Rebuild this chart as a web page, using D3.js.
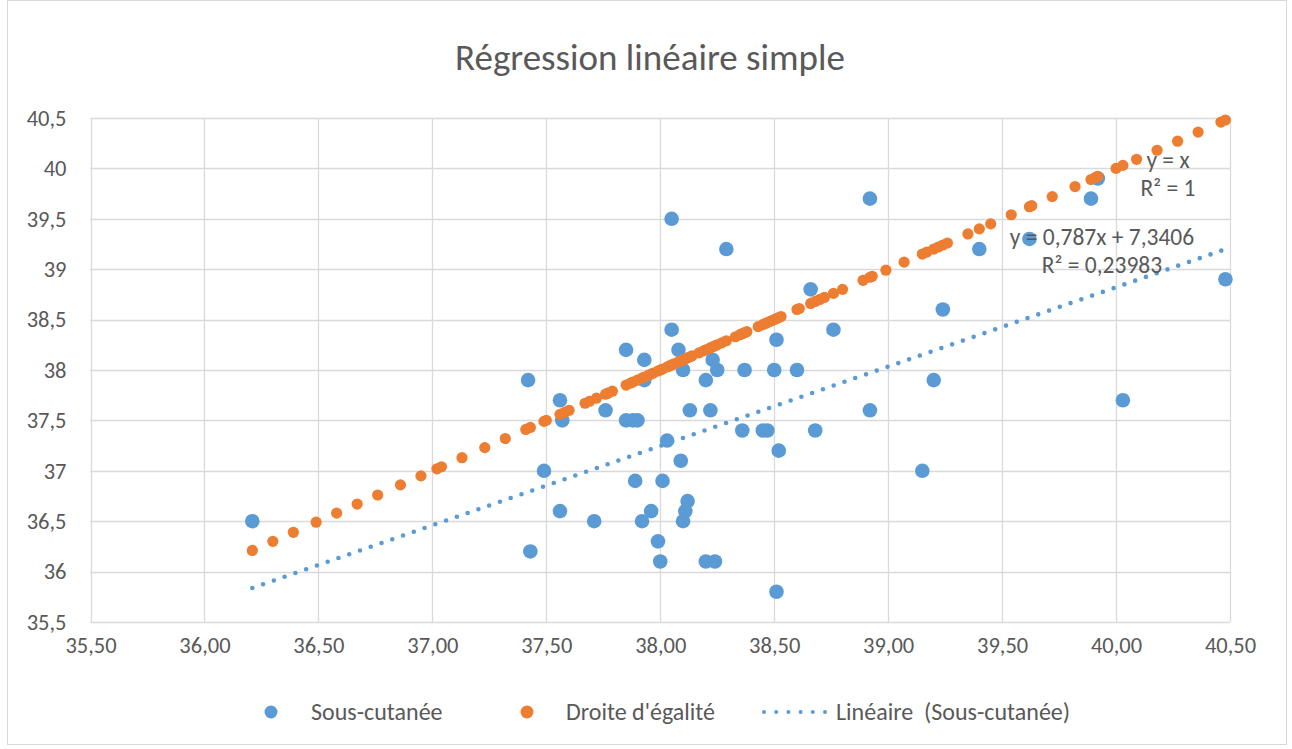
<!DOCTYPE html>
<html lang="fr">
<head>
<meta charset="utf-8">
<script src="https://cdn.jsdelivr.net/npm/d3@7"></script>
<style>
  html, body { margin: 0; padding: 0; background: #fff; }
  svg { display: block; }
  text { font-family: Carlito, Calibri, Lato, "Open Sans", sans-serif; fill: #595959; white-space: pre; }
</style>
</head>
<body>
<svg id="chart" width="1292" height="749"></svg>
<script>
// Sous-cutanée measurements (x = reference temperature, y = subcutaneous temperature)
const subX = [36.21, 37.42, 37.43, 37.49, 37.56, 37.57, 37.56, 37.71, 37.76, 37.85,
              37.85, 37.88, 37.90, 37.89, 37.93, 37.93, 37.92, 37.96, 37.99, 38.00,
              38.01, 38.03, 38.05, 38.05, 38.08, 38.09, 38.10, 38.10, 38.11, 38.12,
              38.13, 38.20, 38.20, 38.22, 38.23, 38.24, 38.25, 38.29, 38.36, 38.37,
              38.45, 38.47, 38.50, 38.51, 38.51, 38.52, 38.60, 38.66, 38.68, 38.76,
              38.92, 38.92, 39.15, 39.20, 39.24, 39.40, 39.62, 39.89, 39.92, 40.03,
              40.48];
const subY = [36.5, 37.9, 36.2, 37.0, 37.7, 37.5, 36.6, 36.5, 37.6, 38.2,
              37.5, 37.5, 37.5, 36.9, 38.1, 37.9, 36.5, 36.6, 36.3, 36.1,
              36.9, 37.3, 38.4, 39.5, 38.2, 37.1, 38.0, 36.5, 36.6, 36.7,
              37.6, 37.9, 36.1, 37.6, 38.1, 36.1, 38.0, 39.2, 37.4, 38.0,
              37.4, 37.4, 38.0, 38.3, 35.8, 37.2, 38.0, 38.8, 37.4, 38.4,
              39.7, 37.6, 37.0, 37.9, 38.6, 39.2, 39.3, 39.7, 39.9, 37.7,
              38.9];

// Droite d'égalité: points lying on y = x
const egaliteX = [36.21, 36.30, 36.39, 36.49, 36.58, 36.67, 36.76, 36.86, 36.95, 37.02,
                  37.04, 37.13, 37.23, 37.32, 37.41, 37.43, 37.49, 37.50, 37.56, 37.58,
                  37.60, 37.67, 37.69, 37.72, 37.76, 37.77, 37.79, 37.85, 37.87, 37.88,
                  37.90, 37.92, 37.93, 37.95, 37.96, 37.97, 37.99, 38.00, 38.01, 38.03,
                  38.04, 38.05, 38.06, 38.08, 38.09, 38.10, 38.11, 38.12, 38.13, 38.14,
                  38.17, 38.19, 38.20, 38.22, 38.23, 38.24, 38.25, 38.27, 38.29, 38.33,
                  38.35, 38.36, 38.37, 38.38, 38.43, 38.45, 38.46, 38.47, 38.48, 38.49,
                  38.50, 38.51, 38.52, 38.53, 38.60, 38.61, 38.66, 38.68, 38.70, 38.72,
                  38.76, 38.80, 38.89, 38.92, 38.93, 38.99, 39.07, 39.15, 39.17, 39.20,
                  39.22, 39.24, 39.26, 39.35, 39.40, 39.45, 39.54, 39.62, 39.63, 39.72,
                  39.82, 39.89, 39.91, 39.92, 40.00, 40.03, 40.09, 40.18, 40.27, 40.36,
                  40.46, 40.48];
const egaliteY = egaliteX.slice();

// Linear trend of the subcutaneous series
const trendSlope = 0.787;
const trendIntercept = 7.3406;
const trendR2 = "0,23983";
const trendRange = [36.21, 40.48];

// Axis ticks
const xTicks = [35.5, 36, 36.5, 37, 37.5, 38, 38.5, 39, 39.5, 40, 40.5];
const yTicks = [35.5, 36, 36.5, 37, 37.5, 38, 38.5, 39, 39.5, 40, 40.5];

const title = "Régression linéaire simple";
const legendLabels = ["Sous-cutanée", "Droite d'égalité", "Linéaire  (Sous-cutanée)"];

const BLUE = "#5B9BD5", ORANGE = "#ED7D31", GRID = "#D9D9D9";
const FONT = "Carlito, Calibri, Lato, 'Open Sans', sans-serif";

const svg = d3.select("#chart");

// chart frame
svg.append("rect")
  .attr("x", 7.5).attr("y", 0.5).attr("width", 1279).attr("height", 744)
  .attr("fill", "#fff").attr("stroke", GRID).attr("stroke-width", 1);

const plot = { left: 90.5, right: 1230, top: 118, bottom: 622 };
const x = d3.scaleLinear().domain([35.5, 40.5]).range([plot.left, plot.right]);
const y = d3.scaleLinear().domain([35.5, 40.5]).range([plot.bottom, plot.top]);

const fmtX = d => d.toFixed(2).replace(".", ",");
const fmtY = d => String(d).replace(".", ",");

// gridlines
const grid = svg.append("g");
grid.selectAll("line.v").data(xTicks).join("line")
  .attr("x1", d => Math.round(x(d)) + 0.5).attr("x2", d => Math.round(x(d)) + 0.5)
  .attr("y1", plot.top).attr("y2", plot.bottom)
  .attr("stroke", GRID).attr("stroke-width", 1.3);
grid.selectAll("line.h").data(yTicks).join("line")
  .attr("x1", plot.left).attr("x2", plot.right)
  .attr("y1", d => Math.round(y(d)) + 0.5).attr("y2", d => Math.round(y(d)) + 0.5)
  .attr("stroke", GRID).attr("stroke-width", 1.3);

// axes (labels only, lines come from the grid)
const xAxis = d3.axisBottom(x).tickValues(xTicks).tickFormat(fmtX).tickSize(0).tickPadding(15);
const gx = svg.append("g").attr("transform", `translate(0,${plot.bottom})`).call(xAxis);
gx.select(".domain").remove();
gx.selectAll("text").attr("font-size", 22.5).style("fill", "#595959").style("font-family", FONT);

const yAxis = d3.axisLeft(y).tickValues(yTicks).tickFormat(fmtY).tickSize(0).tickPadding(24);
const gy = svg.append("g").attr("transform", `translate(${plot.left},0)`).call(yAxis);
gy.select(".domain").remove();
gy.selectAll("text").attr("font-size", 22.5).style("fill", "#595959").style("font-family", FONT);

// title
svg.append("text").attr("x", 650).attr("y", 70).attr("text-anchor", "middle")
  .attr("font-size", 37).text(title);

// trend line
const trendData = trendRange.map(v => ({ x: v, y: trendSlope * v + trendIntercept }));
svg.append("path")
  .datum(trendData)
  .attr("d", d3.line().x(d => x(d.x)).y(d => y(d.y)))
  .attr("fill", "none").attr("stroke", BLUE).attr("stroke-width", 4.6)
  .attr("stroke-linecap", "round").attr("stroke-dasharray", "0 11.4");

// series markers
const subPts = subX.map((v, i) => ({ x: v, y: subY[i] }));
const egPts = egaliteX.map((v, i) => ({ x: v, y: egaliteY[i] }));

svg.append("g").selectAll("circle").data(subPts).join("circle")
  .attr("cx", d => x(d.x)).attr("cy", d => y(d.y)).attr("r", 7.3)
  .attr("fill", BLUE);

svg.append("g").selectAll("circle").data(egPts).join("circle")
  .attr("cx", d => x(d.x)).attr("cy", d => y(d.y)).attr("r", 5.6)
  .attr("fill", ORANGE);

// trendline labels
const fmtNum = v => String(v).replace(".", ",");
const lab1 = svg.append("text").attr("x", 1168).attr("y", 168).attr("text-anchor", "middle")
  .attr("font-size", 23.5);
lab1.append("tspan").attr("x", 1168).text("y = x");
lab1.append("tspan").attr("x", 1168).attr("dy", 28).text("R² = 1");

const lab2 = svg.append("text").attr("x", 1102).attr("y", 245).attr("text-anchor", "middle")
  .attr("font-size", 23.5);
lab2.append("tspan").attr("x", 1102)
  .text(`y = ${fmtNum(trendSlope)}x + ${fmtNum(trendIntercept)}`);
lab2.append("tspan").attr("x", 1102).attr("dy", 28).text(`R² = ${trendR2}`);

// legend
const lg = svg.append("g").attr("font-size", 24);
const ly = 712;
lg.append("circle").attr("cx", 271).attr("cy", ly).attr("r", 6.5).attr("fill", BLUE);
lg.append("text").attr("x", 311).attr("y", ly + 8).text(legendLabels[0]);
lg.append("circle").attr("cx", 527).attr("cy", ly).attr("r", 6.5).attr("fill", ORANGE);
lg.append("text").attr("x", 566).attr("y", ly + 8).text(legendLabels[1]);
lg.append("line").attr("x1", 764).attr("x2", 826).attr("y1", ly).attr("y2", ly)
  .attr("stroke", BLUE).attr("stroke-width", 4).attr("stroke-linecap", "round")
  .attr("stroke-dasharray", "0 12.2");
lg.append("text").attr("x", 836).attr("y", ly + 8).text(legendLabels[2]);
</script>
</body>
</html>
